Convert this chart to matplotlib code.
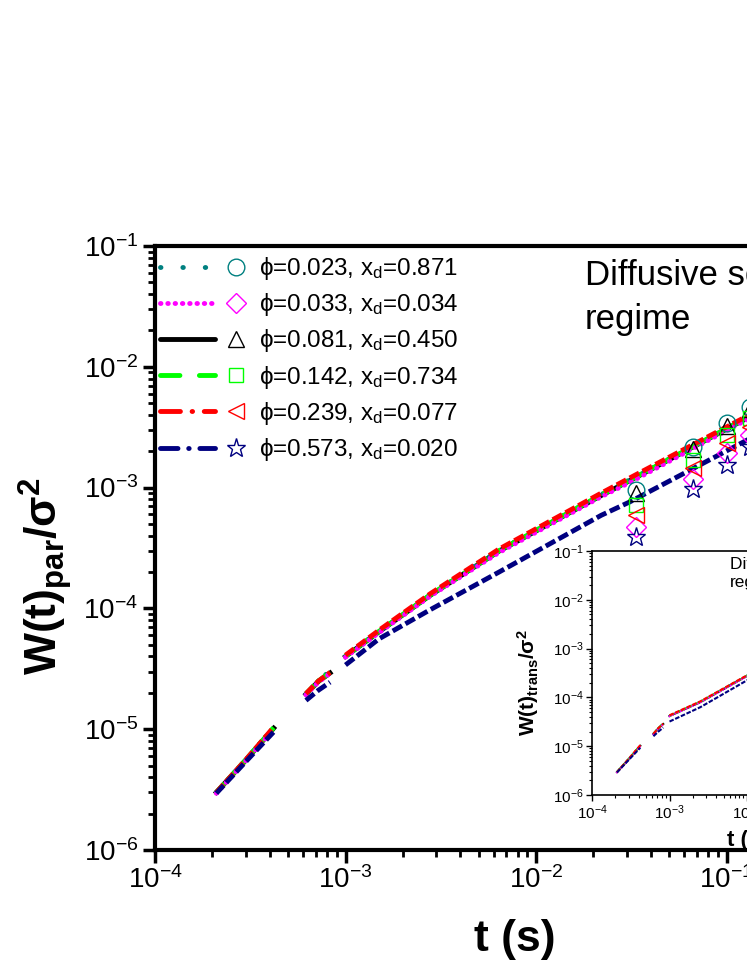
import matplotlib
matplotlib.use('Agg')
import matplotlib.pyplot as plt
from matplotlib.lines import Line2D
from matplotlib.legend_handler import HandlerTuple

plt.rcParams['font.family'] = ['Liberation Sans', 'DejaVu Sans']
plt.rcParams['mathtext.fontset'] = 'custom'
plt.rcParams['mathtext.rm'] = 'Liberation Sans'
plt.rcParams['mathtext.it'] = 'Liberation Sans:italic'
plt.rcParams['mathtext.bf'] = 'Liberation Sans:bold'
plt.rcParams['axes.unicode_minus'] = False

# ---- data ----
# three separate runs in time: indices 0-2, 3-5, 6-end
t_par = [2.1e-4, 3.0e-4, 4.2e-4, 6.2e-4, 7.2e-4, 8.3e-4,
         1.0e-3, 1.5e-3, 2.8e-3, 6.4e-3, 2.2e-2, 3.1e-2, 1.28e-1, 3.0e-1]
par_teal = [3.0e-6, 5.6e-6, 1.03e-5, 1.95e-5, 2.5e-5, 3.05e-5,
            4.0e-5, 6.45e-5, 1.30e-4, 3.02e-4, 8.75e-4, 1.16e-3, 3.8e-3, 7.8e-3]
par_mag = [2.95e-6, 5.5e-6, 1.0e-5, 1.93e-5, 2.45e-5, 2.9e-5,
           3.95e-5, 6.3e-5, 1.27e-4, 2.9e-4, 8.4e-4, 1.1e-3, 3.65e-3, 7.4e-3]
par_black = [3.0e-6, 5.55e-6, 1.02e-5, 1.95e-5, 2.48e-5, 2.92e-5,
             4.0e-5, 6.4e-5, 1.29e-4, 2.98e-4, 8.6e-4, 1.14e-3, 3.75e-3, 7.7e-3]
par_green = [3.0e-6, 5.6e-6, 1.03e-5, 1.96e-5, 2.5e-5, 2.95e-5,
             4.02e-5, 6.45e-5, 1.30e-4, 3.0e-4, 8.7e-4, 1.15e-3, 3.78e-3, 7.75e-3]
par_red = [3.0e-6, 5.6e-6, 1.04e-5, 1.97e-5, 2.5e-5, 2.95e-5,
           4.1e-5, 6.6e-5, 1.33e-4, 3.1e-4, 9.0e-4, 1.2e-3, 3.9e-3, 8.0e-3]
par_navy = [2.95e-6, 5.4e-6, 9.5e-6, 1.73e-5, 2.1e-5, 2.45e-5,
            3.4e-5, 5.6e-5, 9.8e-5, 2.0e-4, 5.9e-4, 7.6e-4, 2.47e-3, 5.0e-3]

t_trans = [2.1e-4, 3.0e-4, 4.2e-4, 6.2e-4, 7.2e-4, 8.3e-4,
           1.0e-3, 2.5e-3, 1.0e-2, 3.0e-2]
trans_teal = [2.95e-6, 5.5e-6, 1.03e-5, 1.8e-5, 2.35e-5, 2.95e-5, 4.2e-5, 8.2e-5, 2.8e-4, 6.4e-4]
trans_mag = [2.9e-6, 5.4e-6, 1.0e-5, 1.75e-5, 2.3e-5, 2.8e-5, 4.1e-5, 7.9e-5, 2.7e-4, 6.2e-4]
trans_black = [2.95e-6, 5.5e-6, 1.02e-5, 1.78e-5, 2.33e-5, 2.85e-5, 4.15e-5, 8.0e-5, 2.76e-4, 6.3e-4]
trans_green = [2.95e-6, 5.55e-6, 1.03e-5, 1.8e-5, 2.35e-5, 2.9e-5, 4.2e-5, 8.1e-5, 2.78e-4, 6.35e-4]
trans_red = [2.95e-6, 5.6e-6, 1.05e-5, 1.8e-5, 2.35e-5, 2.9e-5, 4.3e-5, 8.3e-5, 2.84e-4, 6.5e-4]
trans_navy = [2.9e-6, 5.3e-6, 9.3e-6, 1.6e-5, 2.0e-5, 2.4e-5, 3.2e-5, 6.3e-5, 2.24e-4, 5.2e-4]

# symbols (experiment)
t_exp = [0.0333, 0.0667, 0.1, 0.1333]
exp_teal = [9.5e-4, 2.18e-3, 3.42e-3, 4.68e-3]
exp_mag = [4.7e-4, 1.17e-3, 1.93e-3, 2.7e-3]
exp_black = [9.0e-4, 2.09e-3, 3.23e-3, 4.45e-3]
exp_green = [7.2e-4, 1.70e-3, 2.72e-3, 3.75e-3]
exp_red = [5.9e-4, 1.45e-3, 2.34e-3, 3.2e-3]
exp_navy = [3.9e-4, 9.7e-4, 1.53e-3, 2.15e-3]

labels = ['ϕ=0.023, x$_{\\rm d}$=0.871', 'ϕ=0.033, x$_{\\rm d}$=0.034',
          'ϕ=0.081, x$_{\\rm d}$=0.450', 'ϕ=0.142, x$_{\\rm d}$=0.734',
          'ϕ=0.239, x$_{\\rm d}$=0.077', 'ϕ=0.573, x$_{\\rm d}$=0.020']

# ---- styles ----
colors = ['#008080', '#ff00ff', 'black', '#00ff00', 'red', '#000080']
# patterns used in the legend samples
leg_dash = [(0, (0.1, 4.5)), (0, (0.1, 1.4)), '-', (0, (4, 4)),
            (0, (4.1, 2.4, 0.1, 2.4)), (0, (3.6, 2.2, 0.1, 2.2))]
# dense point-like look of the curves in the plot
plot_dash = [(0, (0.1, 1.8)), (0, (0.1, 1.4)), '-', (0, (2.5, 0.8)),
             (0, (2.2, 0.8)), (0, (2.2, 0.8))]
caps = ['round', 'round', 'butt', 'butt', 'butt', 'butt']
zorders = [2.0, 2.3, 1.9, 2.1, 2.4, 2.5]
markers = ['o', 'D', '^', 's', '<', '*']
msizes = [12, 10, 12, 10, 12, 14]

par_all = [par_teal, par_mag, par_black, par_green, par_red, par_navy]
trans_all = [trans_teal, trans_mag, trans_black, trans_green, trans_red, trans_navy]
exp_all = [exp_teal, exp_mag, exp_black, exp_green, exp_red, exp_navy]
segs = [slice(0, 3), slice(3, 6), slice(6, None)]

fig = plt.figure(figsize=(7.47, 9.67), dpi=100)
ax = fig.add_axes([155 / 747, 117 / 967, 762 / 747, 604 / 967])

for i in range(6):
    for s in segs:
        ax.plot(t_par[s], par_all[i][s], color=colors[i], ls=plot_dash[i],
                lw=3.5, dash_capstyle=caps[i], zorder=zorders[i])
mk_handles = []
for i in range(6):
    mk, = ax.plot(t_exp, exp_all[i], ls='none', marker=markers[i], ms=msizes[i],
                  mfc='none', mec=colors[i], mew=1.0, zorder=3)
    mk_handles.append(mk)
ln_handles = [Line2D([], [], color=colors[i], ls=leg_dash[i], lw=3.5,
                     dash_capstyle='round', solid_capstyle='round') for i in range(6)]

ax.set_xscale('log')
ax.set_yscale('log')
ax.set_xlim(1e-4, 1e0)
ax.set_ylim(1e-6, 1e-1)
for sp in ax.spines.values():
    sp.set_linewidth(3)
ax.tick_params(which='major', direction='out', length=9, width=2.5, labelsize=20, pad=3)
ax.tick_params(which='minor', direction='out', length=5, width=2)

ax.set_xlabel('t (s)', fontsize=32, fontweight='bold')
ax.xaxis.set_label_coords(0.472, -0.115)
ax.set_ylabel('W(t)$_{\\bf par}$/σ$^{\\bf 2}$', fontsize=32, fontweight='bold')
ax.yaxis.set_label_coords(-0.144, 0.454)
ax.yaxis.label.set_va('center')

ax.text(0.564, 0.978, 'Diffusive scaling\nregime', transform=ax.transAxes,
        fontsize=25, va='top', ha='left', linespacing=1.42)

ax.legend(list(zip(ln_handles, mk_handles)), labels,
          handler_map={tuple: HandlerTuple(ndivide=None, pad=-0.27)},
          loc='upper left', bbox_to_anchor=(0.0066, 0.985), frameon=False,
          fontsize=17.4, handlelength=4.3, handletextpad=-0.2,
          labelspacing=0.38, borderpad=0, borderaxespad=0)

# ---- inset ----
ins = fig.add_axes([592 / 747, 172 / 967, 310 / 747, 244 / 967])
for i in range(6):
    for s in segs:
        ins.plot(t_trans[s], trans_all[i][s], color=colors[i], ls=plot_dash[i],
                 lw=1.5, dash_capstyle=caps[i], zorder=zorders[i])
ins.set_xscale('log')
ins.set_yscale('log')
ins.set_xlim(1e-4, 1e0)
ins.set_ylim(1e-6, 1e-1)
for sp in ins.spines.values():
    sp.set_linewidth(1.2)
ins.tick_params(which='major', direction='out', length=4, width=1, labelsize=11, pad=2)
ins.tick_params(which='minor', direction='out', length=2, width=0.8)
ins.set_xlabel('t (s)', fontsize=16, fontweight='bold', labelpad=6)
ins.set_ylabel('W(t)$_{\\bf trans}$/σ$^{\\bf 2}$', fontsize=15, fontweight='bold')
ins.yaxis.set_label_coords(-0.206, 0.46)
ins.yaxis.label.set_va('center')
ins.text(0.445, 0.975, 'Diffusive scaling\nregime', transform=ins.transAxes,
         fontsize=12.5, va='top', ha='left')

fig.savefig('out.png', dpi=100)
